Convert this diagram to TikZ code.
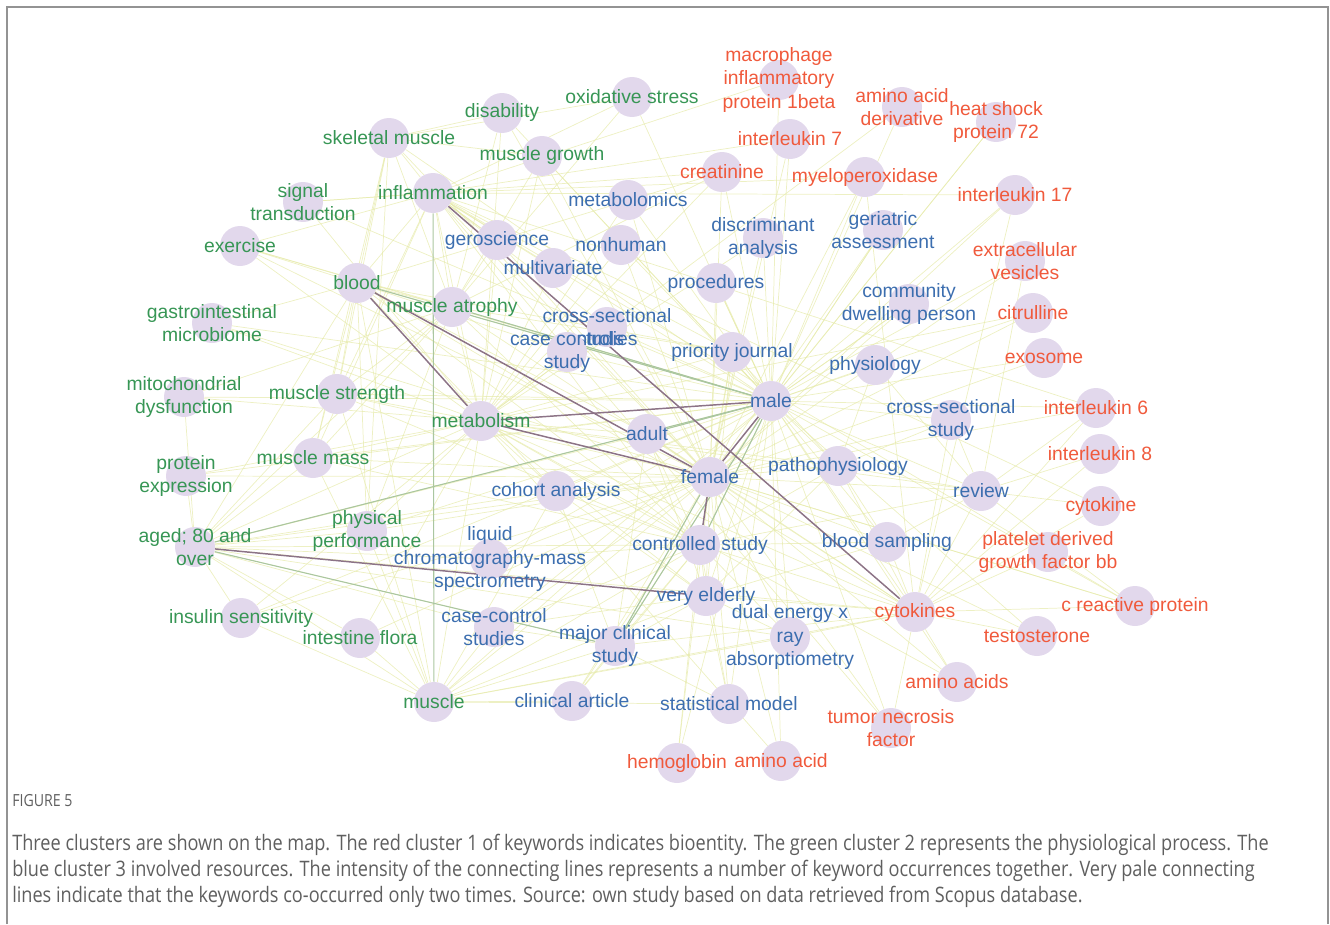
\documentclass[tikz,border=0pt]{standalone}
\usepackage{fontspec}
\usepackage{tikz}
\usetikzlibrary{positioning}
\newfontfamily\kwfont{Liberation Sans}
\newfontfamily\capfont[FakeStretch=0.85]{Open Sans}
\definecolor{dotfill}{RGB}{226,216,236}
\definecolor{kwgreen}{RGB}{55,150,85}
\definecolor{kwblue}{RGB}{60,110,175}
\definecolor{kwred}{RGB}{240,90,60}
\definecolor{webline}{RGB}{230,234,170}
\definecolor{midline}{RGB}{170,198,160}
\definecolor{strongline}{RGB}{140,115,135}
\definecolor{capgray}{RGB}{95,95,95}
\pgfdeclarelayer{bg}
\pgfsetlayers{bg,main}
\tikzset{
  kwdot/.style={circle, fill=dotfill, minimum size=30pt, inner sep=0pt},
  kwtxt/.style={font=\kwfont\fontsize{14.5}{17.5}\selectfont, align=center, inner sep=0pt},
  gkw/.style={kwdot, label={[kwtxt, text=kwgreen]center:{#1}}},
  bkw/.style={kwdot, label={[kwtxt, text=kwblue]center:{#1}}},
  rkw/.style={kwdot, label={[kwtxt, text=kwred]center:{#1}}},
  web/.style={draw=webline, line width=0.55pt, opacity=0.7},
  mid/.style={draw=midline, line width=0.8pt},
  strong/.style={draw=strongline, line width=1.1pt},
}
\begin{document}
\begin{tikzpicture}[x=0.75pt, y=-0.75pt]
  \useasboundingbox (0,0) rectangle (1330,924);
  \draw [gray!85, line width=1.5pt] (7,924) -- (7,7) -- (1328,7) -- (1328,924);

  % green cluster
  \node [gkw=skeletal muscle] (skm) at (389,138) {};
  \node [gkw=disability] (dis) at (502,113) {};
  \node [gkw=oxidative stress] (oxs) at (632,97) {};
  \node [gkw=muscle growth] (mgr) at (542,156) {};
  \node [gkw={signal\\transduction}] (sig) at (303,202) {};
  \node [gkw=inflammation] (inf) at (433,193) {};
  \node [gkw=exercise] (exe) at (240,246) {};
  \node [gkw=blood] (bld) at (357,283) {};
  \node [gkw=muscle atrophy] (mat) at (452,307) {};
  \node [gkw={gastrointestinal\\microbiome}] (gim) at (212,323) {};
  \node [gkw={mitochondrial\\dysfunction}] (mit) at (184,397) {};
  \node [gkw=muscle strength] (mst) at (337,394) {};
  \node [gkw=metabolism] (met) at (481,421) {};
  \node [gkw=muscle mass] (mms) at (313,458) {};
  \node [gkw={protein\\expression}] (pex) at (186,476) {};
  \node [gkw={physical\\performance}] (phy) at (367,531) {};
  \node [gkw={aged; 80 and\\over}] (agd) at (195,547) {};
  \node [gkw=insulin sensitivity] (ins) at (241,618) {};
  \node [gkw=intestine flora] (ifl) at (360,638) {};
  \node [gkw=muscle] (mus) at (434,702) {};

  % blue cluster
  \node [bkw=geroscience] (ger) at (497,240) {};
  \node [bkw=multivariate] (mva) at (553,268) {};
  \node [bkw=metabolomics] (mbx) at (628,200) {};
  \node [bkw=nonhuman] (nhu) at (621,245) {};
  \node [bkw=procedures] (prc) at (716,283) {};
  \node [bkw={discriminant\\analysis}] (dan) at (763,238) {};
  \node [bkw={geriatric\\assessment}] (gas) at (883,230) {};
  \node [bkw={community\\dwelling person}] (cdp) at (909,304) {};
  \node [bkw={cross-sectional\\studies}] (css) at (607,327) {};
  \node [bkw={case controls\\study}] (ccs) at (567,352) {};
  \node [bkw=priority journal] (prj) at (732,352) {};
  \node [bkw=physiology] (phs) at (875,365) {};
  \node [bkw=male] (male) at (771,401) {};
  \node [bkw={cross-sectional\\study}] (cst) at (951,420) {};
  \node [bkw=adult] (adl) at (647,434) {};
  \node [bkw=female] (fem) at (710,477) {};
  \node [bkw=pathophysiology] (pph) at (838,466) {};
  \node [bkw=review] (rev) at (981,491) {};
  \node [bkw=cohort analysis] (coh) at (556,491) {};
  \node [bkw={liquid\\chromatography-mass\\spectrometry}] (lcm) at (490,559) {};
  \node [bkw=controlled study] (ctl) at (700,545) {};
  \node [bkw=blood sampling] (bls) at (887,542) {};
  \node [bkw=very elderly] (vel) at (706,596) {};
  \node [bkw={case-control\\studies}] (cac) at (494,627) {};
  \node [bkw={major clinical\\study}] (mcs) at (615,646) {};
  \node [bkw={dual energy x\\ray\\absorptiometry}] (dxa) at (790,637) {};
  \node [bkw=clinical article] (cla) at (572,701) {};
  \node [bkw=statistical model] (stm) at (729,704) {};

  % red cluster
  \node [rkw={macrophage\\inflammatory\\protein 1beta}] (mip) at (779,80) {};
  \node [rkw={amino acid\\derivative}] (aad) at (902,107) {};
  \node [rkw={heat shock\\protein 72}] (hsp) at (996,122) {};
  \node [rkw=interleukin 7] (il7) at (790,139) {};
  \node [rkw=creatinine] (cre) at (722,172) {};
  \node [rkw=myeloperoxidase] (mpo) at (865,177) {};
  \node [rkw=interleukin 17] (il17) at (1015,195) {};
  \node [rkw={extracellular\\vesicles}] (ev) at (1025,261) {};
  \node [rkw=citrulline] (cit) at (1033,313) {};
  \node [rkw=exosome] (exo) at (1044,358) {};
  \node [rkw=interleukin 6] (il6) at (1096,408) {};
  \node [rkw=interleukin 8] (il8) at (1100,454) {};
  \node [rkw=cytokine] (cyt) at (1101,506) {};
  \node [rkw={platelet derived\\growth factor bb}] (pdg) at (1048,552) {};
  \node [rkw=c reactive protein] (crp) at (1135,606) {};
  \node [rkw=cytokines] (cyts) at (915,612) {};
  \node [rkw=testosterone] (tst) at (1037,636) {};
  \node [rkw=amino acids] (aas) at (957,682) {};
  \node [rkw={tumor necrosis\\factor}] (tnf) at (891,728) {};
  \node [rkw=hemoglobin] (hgb) at (677,763) {};
  \node [rkw=amino acid] (aa) at (781,761) {};

  % links
  \begin{pgfonlayer}{bg}
    \foreach \a/\blist in {
      male/{fem,adl,met,bld,mat,inf,prj,phs,cst,pph,rev,ctl,bls,vel,mcs,dxa,coh,agd,mst,mms,phy,cyts,il6,css,ccs,prc,cdp,gas,mus,stm,cla,cac,lcm,skm,mgr},
      fem/{adl,met,bld,mat,inf,prj,cst,pph,rev,ctl,bls,vel,mcs,dxa,coh,agd,mst,mms,phy,cyts,mus,cla,stm,cac,lcm,ger,skm,crp,il6},
      met/{inf,bld,mat,adl,coh,agd,mst,mms,phy,ctl,ccs,css,prj,mbx,nhu,mva,ger,cyts,mus,pph,rev,vel},
      agd/{mst,mms,phy,bld,mat,lcm,ctl,cac,mcs,mus,ifl,ins,coh,adl,cyts,dxa,pex,mit},
      inf/{skm,bld,mat,mst,mms,ger,mva,prj,ctl,css,cyts,il6,cyt,tnf,crp,exe,sig},
      bld/{skm,mat,mst,mms,phy,gim,prj,ctl,coh,cyts,mus,adl,ccs,exe},
      ctl/{mat,mst,mms,coh,cac,mcs,vel,dxa,bls,cyts,pph,rev,mus,cla,stm,lcm,adl,prj},
      cyts/{pph,bls,rev,cst,il6,il8,cyt,crp,tst,aas,tnf,pdg,vel,mcs,dxa,mus,adl},
      mus/{mst,mms,phy,mcs,cla,cac,ifl,ins,vel,dxa,coh,stm},
      vel/{mcs,dxa,cac,coh,adl,prj,pph,stm,bls},
      mcs/{cac,cla,coh,adl,stm},
      mat/{skm,mst,mms,phy,prj,mgr,oxs,dis,ger},
      skm/{mst,mms,dis,mgr,oxs,phy},
      rev/{cst,pph,phs,il6,il8,cyt,crp,bls},
      pph/{phs,cst,bls,prj},
      cre/{male,fem,met,inf,bld,mat}, mpo/{male,fem,inf,cyts}, il7/{male,fem,inf},
      il17/{male,fem,inf,cyts}, ev/{male,fem,rev}, cit/{male,fem,met}, exo/{male,fem},
      mip/{male,inf}, aad/{male,met}, hsp/{male,fem},
      gim/{met,male,fem}, mit/{met,male,mat}, pex/{met,male,fem}, exe/{met,mat,male,fem},
      sig/{met,inf,male}, dis/{male,fem,met}, oxs/{inf,male}, mgr/{met,fem},
      ins/{met,fem,male}, ifl/{met,fem}, mbx/{male,fem}, nhu/{male,fem}, prc/{male,fem},
      dan/{male,fem,met}, gas/{male,fem}, cdp/{male,fem}, ger/{inf}, hgb/{male,fem,ctl},
      aa/{male,fem,met}, aas/{male,fem,met}, tnf/{male,fem}, tst/{male,fem}, crp/{male,fem}}
      \foreach \b in \blist
        \draw [web] (\a) -- (\b);
    \foreach \a/\b in {male/bld, male/mcs, fem/mcs, male/ctl, agd/male, mus/inf, agd/mcs, male/adl, male/mat}
      \draw [mid] (\a) -- (\b);
    \foreach \a/\b in {inf/cyts, bld/met, bld/fem, agd/vel, male/fem, fem/ctl, met/male, met/fem}
      \draw [strong] (\a) -- (\b);
  \end{pgfonlayer}

  % caption
  \node [anchor=west, inner sep=0pt, text=capgray, font=\capfont\fontsize{12.5}{14}\selectfont] (fig) at (12,801) {FIGURE 5};
  \node [anchor=north west, inner sep=0pt, align=left, text=capgray, font=\capfont\fontsize{16}{19.5}\selectfont] (cap) at (12,834)
    {Three clusters are shown on the map. The red cluster 1 of keywords indicates bioentity. The green cluster 2 represents the physiological process. The\\
     blue cluster 3 involved resources. The intensity of the connecting lines represents a number of keyword occurrences together. Very pale connecting\\
     lines indicate that the keywords co-occurred only two times. Source: own study based on data retrieved from Scopus database.};
\end{tikzpicture}
\end{document}
